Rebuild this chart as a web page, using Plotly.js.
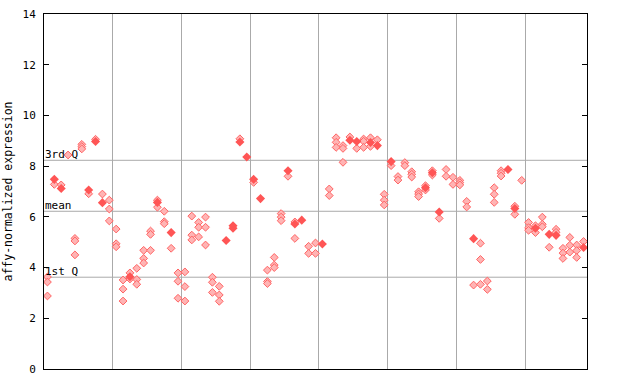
<!DOCTYPE html>
<html><head><meta charset="utf-8">
<script src="https://cdn.plot.ly/plotly-3.0.1.min.js"></script>
<style>html,body{margin:0;padding:0;background:#fff}</style>
</head><body><div id="c" style="width:640px;height:384px"></div>
<script>
// sample index (column) and expression value for hatched points
const hatchIdx = [0,0,0, 1, 2, 3, 4,4,4, 5,5,5, 6, 7, 8, 9,9,9, 10,10,10, 11,11,11, 12,12,
  13,13,13, 14,14,14, 15,15,15, 16,16, 17,17,17, 18, 19,19,19, 20,20,20, 21,21,21, 22,22,22, 23,23,23,
  24,24,24, 25,25,25, 28, 30, 32,32,32, 33,33,33, 34,34,34, 35, 36,36, 38,38, 39,39,
  41,41, 42,42,42, 43,43,43, 44, 45, 46,46,46, 47,47, 48, 49,49,49, 50, 51,51, 52,52,
  53,53,53, 54,54,54, 55,55, 56,56, 57, 58,58, 59,59, 60,60,60, 61,61, 62, 63,63,63, 64,64,
  65,65,65, 66,66,66, 68,68, 69, 70,70,70, 71,71, 72,72,72, 73, 74,74, 75,75,75, 76,76,76, 77,77,77, 78];
const hatchVal = [3.63,3.43,2.88, 7.28, 7.26, 8.44, 5.15,5.05,4.50, 8.86,8.77,8.68, 6.91, 9.06, 6.90, 6.66,6.31,5.84, 5.52,4.94,4.82, 3.51,3.15,2.68, 3.79,3.55,
  3.97,3.53,3.34, 4.68,4.36,4.18, 5.44,5.31,4.68, 6.66,6.38, 6.22,5.81,5.73, 4.76, 3.79,3.46,2.79, 3.83,3.25,2.68, 6.03,5.28,5.09, 5.78,5.59,5.21, 5.99,5.59,4.89,
  3.62,3.42,3.02, 3.26,2.92,2.67, 9.08, 7.36, 3.90,3.45,3.37, 4.40,4.10,4.00, 6.13,5.99,5.85, 7.60, 5.80,5.15, 4.84,4.56, 4.97,4.56,
  7.10,6.84, 9.12,8.94,8.74, 8.81,8.70,8.15, 9.15, 8.70, 9.07,8.98,8.74, 9.12,8.78, 9.04, 6.89,6.66,6.47, 8.02, 7.59,7.45, 8.14,8.02,
  7.78,7.68,7.57, 6.99,6.90,6.80, 7.23,7.06, 7.82,7.65, 5.94, 7.87,7.60, 7.56,7.28, 7.44,7.35,7.26, 6.61,6.39, 3.31, 4.96,4.32,3.34, 3.47,3.14,
  7.15,6.89,6.57, 7.82,7.72,7.61, 6.42,6.10, 7.44, 5.78,5.57,5.47, 5.65,5.38, 5.99,5.71,5.61, 4.80, 5.51,5.39, 4.76,4.57,4.36, 5.19,4.88,4.61, 4.89,4.67,4.40, 5.03];
// sample index and value for solid points
const solidIdx = [1, 2, 6, 7, 8, 12, 16, 18, 26, 27,27, 28, 29, 30, 31, 35, 36, 37, 40, 44, 45, 47, 48, 50, 55, 56, 57, 62, 67, 68, 71, 73, 74, 78];
const solidVal = [7.48, 7.12, 7.06, 8.97, 6.56, 3.64, 6.57, 5.38, 5.07, 5.65,5.55, 8.95, 8.36, 7.48, 6.72, 7.82, 5.72, 5.87, 4.93, 9.02, 8.97, 8.93, 8.81, 8.18, 7.15, 7.74, 6.19, 5.14, 7.87, 6.33, 5.55, 5.31, 5.27, 4.79];
// reference lines
const refNames = ['3rd Q', 'mean', '1st Q'];
const refVals = [8.23, 6.22, 3.62];
const groupBounds = [9.5, 19.5, 29.5, 39.5, 49.5, 59.5, 69.5];
const yTicks = [0,2,4,6,8,10,12,14];

const mono = 'DejaVu Sans Mono, monospace';
const red = '#ff5555';
const traces = [
  {x: hatchIdx, y: hatchVal, type: 'scatter', mode: 'markers', hoverinfo: 'skip',
   marker: {symbol: 'diamond', size: 6, color: '#ffb4b4', line: {color: '#ff6464', width: 1}}},
  {x: solidIdx, y: solidVal, type: 'scatter', mode: 'markers', hoverinfo: 'skip',
   marker: {symbol: 'diamond', size: 7, color: red, line: {width: 0}}}
];
const shapes = refVals.map(v => ({type: 'line', xref: 'paper', x0: 0, x1: 1, yref: 'y', y0: v, y1: v,
  line: {color: '#aaaaaa', width: 1}, layer: 'below'}));
const annotations = refNames.map((n, k) => ({xref: 'paper', x: 0, xanchor: 'left', yref: 'y', y: refVals[k],
  yanchor: 'bottom', text: n, showarrow: false, font: {family: mono, size: 11, color: '#000'}, xshift: -1, yshift: -3}));
const layout = {
  width: 640, height: 384, showlegend: false,
  margin: {l: 44, r: 53, t: 14, b: 15},
  paper_bgcolor: '#fff', plot_bgcolor: '#fff',
  xaxis: {range: [-0.5, 78.5], tickvals: groupBounds, showticklabels: false, ticks: '', showgrid: true,
    gridcolor: '#aaaaaa', gridwidth: 1, zeroline: false, showline: true, linecolor: '#000', linewidth: 1, mirror: true},
  yaxis: {range: [0, 14], tickvals: yTicks, ticktext: yTicks.map(String), ticks: 'inside', ticklen: 5, tickcolor: '#000',
    showgrid: false, zeroline: false, showline: true, linecolor: '#000', linewidth: 1, mirror: 'ticks',
    tickfont: {family: mono, size: 11, color: '#000'}, ticklabelstandoff: 5,
    title: {text: 'affy-normalized expression', font: {family: mono, size: 11.5, color: '#000'}, standoff: 7}},
  shapes: shapes, annotations: annotations
};
Plotly.newPlot('c', traces, layout, {staticPlot: true});
</script></body></html>
